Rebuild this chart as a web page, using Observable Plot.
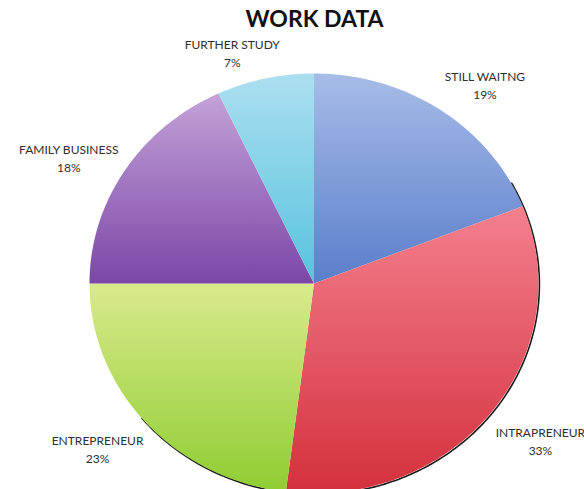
<!DOCTYPE html>
<html>
<head>
<meta charset="utf-8">
<script src="https://cdn.jsdelivr.net/npm/d3@7"></script>
<script src="https://cdn.jsdelivr.net/npm/@observablehq/plot@0.6"></script>
<style>
  html, body { margin: 0; padding: 0; background: #fff; overflow: hidden; }
  #chart svg { display: block; }
</style>
</head>
<body>
<div id="chart"></div>
<script>
// ---- data ----
const title = "WORK DATA";
const categories = ["STILL WAITNG", "INTRAPRENEUR", "ENTREPRENEUR", "FAMILY BUSINESS", "FURTHER STUDY"];
const values = [19, 33, 23, 18, 7];
const percentLabels = ["19%", "33%", "23%", "18%", "7%"];

// ---- styles ----
const gradTop = ["#a7bce7", "#f4808e", "#d9ea8c", "#c4a2d8", "#acdff0"];
const gradBottom = ["#5a7ecb", "#d3303c", "#8fcd32", "#7a47a7", "#57c3de"];
const labelNudge = [[17, 13], [10, 0], [-11, -5], [-14, 11], [-22, 19]]; // pixel nudges
const labelRadius = 1.22;

const W = 584, H = 489;

const arcs = d3.pie().sort(null).value(d => d)(values);

// slice polygons in unit-circle data space
const slicePts = [];
arcs.forEach((a, i) => {
  const cat = categories[i];
  slicePts.push({cat, x: 0, y: 0});
  const n = Math.max(8, Math.ceil((a.endAngle - a.startAngle) / (Math.PI / 180)));
  for (let k = 0; k <= n; k++) {
    const t = a.startAngle + (a.endAngle - a.startAngle) * k / n;
    slicePts.push({cat, x: Math.sin(t), y: Math.cos(t)});
  }
  slicePts.push({cat, x: 0, y: 0});
});

// shadow rim along lower-right part of the pie
const rimStart = 0.17 * 2 * Math.PI, rimEnd = 0.64 * 2 * Math.PI;
const rim = d3.range(0, 181).map(k => {
  const t = rimStart + (rimEnd - rimStart) * k / 180;
  return {x: Math.sin(t), y: Math.cos(t)};
});

// labels
const labels = arcs.map((a, i) => {
  const m = (a.startAngle + a.endAngle) / 2;
  return {
    text: categories[i] + "\n" + percentLabels[i],
    x: labelRadius * Math.sin(m),
    y: labelRadius * Math.cos(m),
    dx: labelNudge[i][0], dy: labelNudge[i][1]
  };
});

const chart = Plot.plot({
  width: W,
  height: H,
  margin: 0,
  style: {background: "#fff", overflow: "hidden"},
  x: {domain: [-1, 1], range: [89, 538], axis: null},
  y: {domain: [-1, 1], range: [493, 73], axis: null},
  color: {domain: categories, range: categories.map((c, i) => `url(#slice-grad-${i})`)},
  marks: [
    Plot.line(rim, {x: "x", y: "y", stroke: "#1a1a1a", strokeWidth: 1.6, dx: 0.9, dy: 0.9, curve: "linear"}),
    Plot.line(slicePts, {x: "x", y: "y", z: "cat", fill: "cat", stroke: "none", curve: "linear"}),
    ...labels.map(l => Plot.text([l], {
      x: "x", y: "y", text: "text", dx: l.dx, dy: l.dy,
      fontSize: 12, fill: "#2e2e2e", lineHeight: 1.5, lineAnchor: "middle",
      fontFamily: "Lato, 'Open Sans', sans-serif"
    })),
    Plot.text([title], {
      frameAnchor: "top", dx: 22, dy: 10, text: d => d,
      fontSize: 23, fontWeight: "bold", fill: "#111", lineAnchor: "top",
      fontFamily: "Lato, 'Open Sans', sans-serif"
    })
  ]
});

// vertical gradients for each slice
const defs = d3.select(chart).insert("defs", ":first-child");
categories.forEach((c, i) => {
  const g = defs.append("linearGradient")
    .attr("id", `slice-grad-${i}`)
    .attr("x1", 0).attr("y1", 0).attr("x2", 0).attr("y2", 1);
  g.append("stop").attr("offset", "0%").attr("stop-color", gradTop[i]);
  g.append("stop").attr("offset", "100%").attr("stop-color", gradBottom[i]);
});

document.getElementById("chart").appendChild(chart);
</script>
</body>
</html>
